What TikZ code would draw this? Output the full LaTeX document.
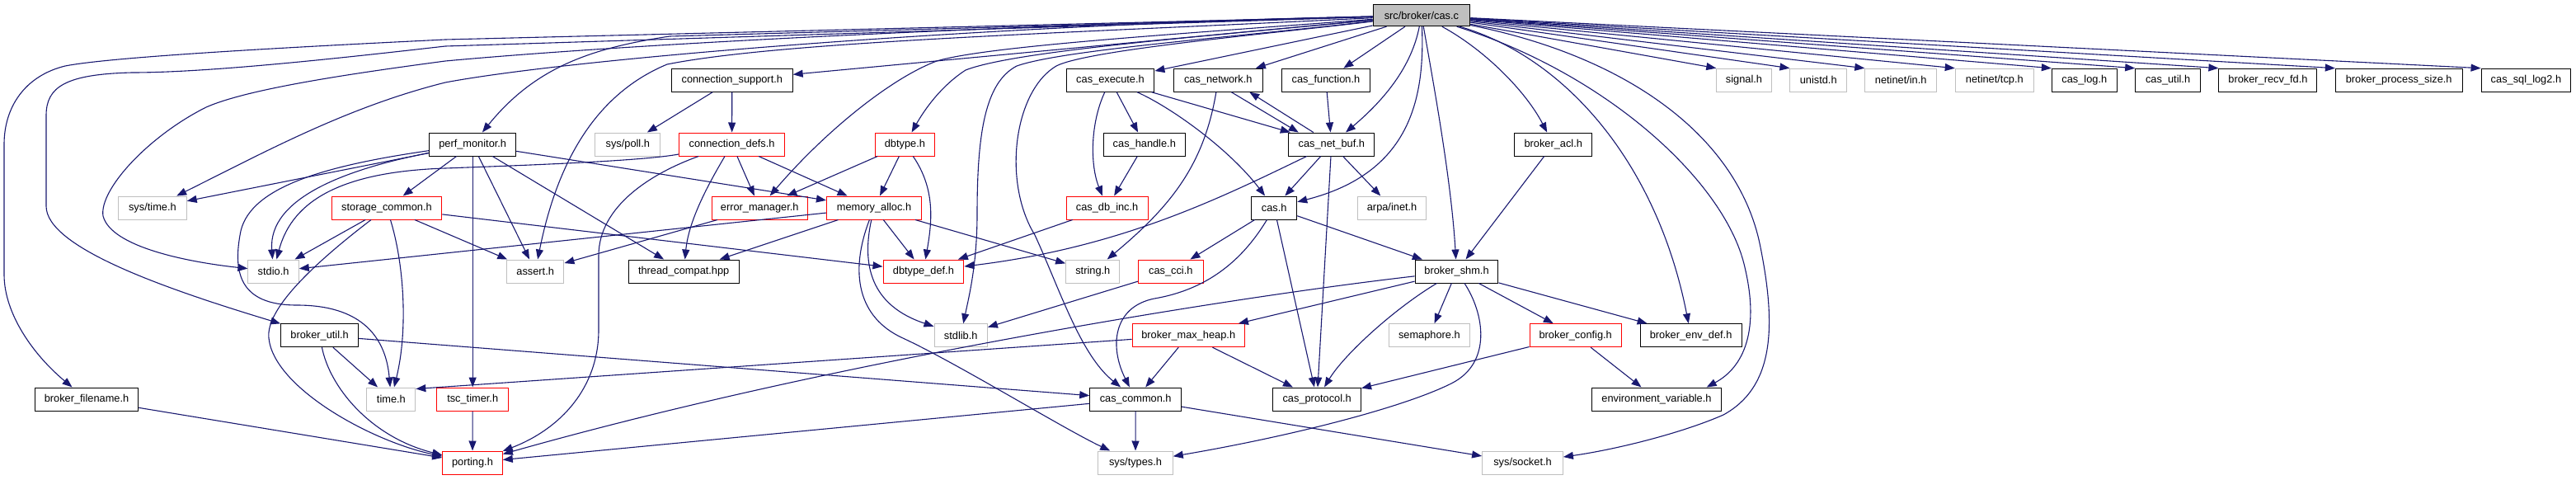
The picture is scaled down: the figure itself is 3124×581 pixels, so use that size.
\documentclass[tikz,border=0pt]{standalone}
\usepackage{fontspec}
\setmainfont{Liberation Sans}
\usetikzlibrary{arrows.meta}
\definecolor{edgec}{HTML}{191970}
\definecolor{grayb}{HTML}{BFBFBF}
\newcommand\nodefont{\fontsize{12.8}{15}\selectfont}
\tikzset{
 nd/.style={rectangle, line width=1pt, minimum height=28pt, inner sep=0pt, font=\nodefont, text=black},
 blk/.style={nd, draw=black},
 redb/.style={nd, draw=red},
 gryb/.style={nd, draw=grayb},
 rootb/.style={nd, draw=black, fill=grayb, minimum height=26pt},
 e/.style={draw=edgec, line width=1.1pt, -{Triangle[length=12pt,width=9pt]}},
}
\begin{document}
\begin{tikzpicture}[x=1pt,y=-1pt]
\useasboundingbox (0,0) rectangle (3124,581);
% row 0
\node[rootb, minimum width=117.7pt] (R) at (1723.9,18.7) {src/broker/cas.c};
% row 1
\node[blk, minimum width=146.7pt] (csup) at (887.8,97.2) {connection\_support.h};
\node[blk, minimum width=106.8pt] (cexe) at (1346.5,97.2) {cas\_execute.h};
\node[blk, minimum width=107.4pt] (cnet) at (1477.3,97.2) {cas\_network.h};
\node[blk, minimum width=106.7pt] (cfun) at (1607.9,97.2) {cas\_function.h};
\node[gryb, minimum width=66.5pt] (sig) at (2115,97.2) {signal.h};
\node[gryb, minimum width=68.5pt] (unistd) at (2205.2,97.2) {unistd.h};
\node[gryb, minimum width=86.8pt] (netin) at (2305.2,97.2) {netinet/in.h};
\node[gryb, minimum width=95.1pt] (nettcp) at (2418.8,97.2) {netinet/tcp.h};
\node[blk, minimum width=78.9pt] (clog) at (2527.8,97.2) {cas\_log.h};
\node[blk, minimum width=78.8pt] (cutil) at (2629.1,97.2) {cas\_util.h};
\node[blk, minimum width=119pt] (brecv) at (2750.4,97.2) {broker\_recv\_fd.h};
\node[blk, minimum width=153.7pt] (bproc) at (2909.2,97.2) {broker\_process\_size.h};
\node[blk, minimum width=108.7pt] (csql) at (3063.4,97.2) {cas\_sql\_log2.h};
% row 2
\node[blk, minimum width=105pt] (pm) at (573.2,175) {perf\_monitor.h};
\node[gryb, minimum width=78.9pt] (spoll) at (761.3,175) {sys/poll.h};
\node[redb, minimum width=128.4pt] (cdefs) at (887.6,175) {connection\_defs.h};
\node[redb, minimum width=71.9pt] (dbt) at (1097.4,175) {dbtype.h};
\node[blk, minimum width=99.2pt] (chandle) at (1387.8,175) {cas\_handle.h};
\node[blk, minimum width=104.1pt] (cnb) at (1614.8,175) {cas\_net\_buf.h};
\node[blk, minimum width=93.6pt] (bacl) at (1883.7,175) {broker\_acl.h};
% row 3
\node[gryb, minimum width=82.6pt] (systime) at (184.9,252) {sys/time.h};
\node[redb, minimum width=133.6pt] (stcom) at (469,252) {storage\_common.h};
\node[redb, minimum width=116.4pt] (em) at (921.2,252) {error\_manager.h};
\node[redb, minimum width=115.1pt] (malloc) at (1060,252) {memory\_alloc.h};
\node[redb, minimum width=98.9pt] (cdbinc) at (1342.6,252) {cas\_db\_inc.h};
\node[blk, minimum width=55.1pt] (cas) at (1545.2,252) {cas.h};
\node[gryb, minimum width=82.6pt] (arpa) at (1688.1,252) {arpa/inet.h};
% row 4
\node[gryb, minimum width=61.3pt] (stdio) at (331.6,329) {stdio.h};
\node[gryb, minimum width=69.5pt] (assert) at (649.2,329) {assert.h};
\node[blk, minimum width=133.6pt] (tcompat) at (829.2,329) {thread\_compat.hpp};
\node[redb, minimum width=97.8pt] (dbtdef) at (1119.9,329) {dbtype\_def.h};
\node[gryb, minimum width=65.3pt] (string) at (1325.3,329) {string.h};
\node[redb, minimum width=79pt] (ccci) at (1419.8,329) {cas\_cci.h};
\node[blk, minimum width=100.9pt] (bshm) at (1766.5,329) {broker\_shm.h};
% row 5
\node[blk, minimum width=94pt] (bu) at (387.6,406.7) {broker\_util.h};
\node[gryb, minimum width=64.4pt] (stdlib) at (1165.2,406.7) {stdlib.h};
\node[redb, minimum width=136.3pt] (bmh) at (1441.2,406.7) {broker\_max\_heap.h};
\node[gryb, minimum width=97.4pt] (sema) at (1733.4,406.7) {semaphore.h};
\node[redb, minimum width=111.2pt] (bcfg) at (1910.7,406.7) {broker\_config.h};
\node[blk, minimum width=122.9pt] (benv) at (2050.6,406.7) {broker\_env\_def.h};
% row 6
\node[blk, minimum width=125.4pt] (bfn) at (105,484) {broker\_filename.h};
\node[gryb, minimum width=58.9pt] (time) at (474.4,484) {time.h};
\node[redb, minimum width=87.2pt] (tsc) at (573.2,484) {tsc\_timer.h};
\node[blk, minimum width=110.9pt] (ccom) at (1377.2,484) {cas\_common.h};
\node[blk, minimum width=106.8pt] (cproto) at (1597.2,484) {cas\_protocol.h};
\node[blk, minimum width=156.3pt] (envv) at (2009,484) {environment\_variable.h};
% row 7
\node[redb, minimum width=72.6pt] (porting) at (573,561) {porting.h};
\node[gryb, minimum width=90.5pt] (systypes) at (1377,561) {sys/types.h};
\node[gryb, minimum width=97.8pt] (sock) at (1846.5,561) {sys/socket.h};

% ---- edges from root
\draw[e] (R) -- (540,48) .. controls (250,62) and (120,72) .. (79,80) .. controls (30,92) and (5,130) .. (5,175) -- (5,333) .. controls (5,380) and (40,430) .. (bfn);
\draw[e] (R) -- (540,56) .. controls (400,72) and (250,88) .. (160,88) .. controls (80,90) and (56,105) .. (56,140) -- (56,250) .. controls (56,300) and (200,350) .. (bu);
\draw[e] (R) .. controls (1300,28) and (800,50) .. (540,74) .. controls (420,90) and (300,108) .. (250,130) .. controls (180,165) and (120,230) .. (125,262) .. controls (135,300) and (230,318) .. (stdio);
\draw[e] (R) .. controls (1200,30) and (700,70) .. (540,100) .. controls (420,130) and (320,185) .. (systime);
\draw[e] (R) -- (812,44) .. controls (720,58) and (650,80) .. (pm);
\draw[e] (R) -- (csup);
\draw[e] (R) .. controls (1300,40) and (950,50) .. (809,78) .. controls (720,115) and (675,200) .. (assert);
\draw[e] (R) .. controls (1450,40) and (1200,55) .. (1136,74) .. controls (1080,95) and (1000,160) .. (em);
\draw[e] (R) .. controls (1450,45) and (1230,62) .. (1171,85) .. controls (1140,105) and (1120,135) .. (dbt);
\draw[e] (R) .. controls (1500,45) and (1290,60) .. (1233,80) .. controls (1195,100) and (1185,160) .. (1185,260) .. controls (1185,320) and (1175,360) .. (stdlib);
\draw[e] (R) .. controls (1550,40) and (1320,60) .. (1281,80) .. controls (1230,110) and (1215,220) .. (1255,285) .. controls (1285,350) and (1310,430) .. (ccom);
\draw[e] (R) -- (cexe);
\draw[e] (R) -- (cnet);
\draw[e] (R) -- (cfun);
\draw[e] (R) .. controls (1712,80) and (1680,120) .. (cnb);
\draw[e] (R) .. controls (1728,120) and (1710,210) .. (cas);
\draw[e] (R) .. controls (1740,110) and (1760,220) .. (bshm);
\draw[e] (R) .. controls (1800,60) and (1850,110) .. (bacl);
\draw[e] (R) .. controls (1900,70) and (2010,200) .. (benv);
\draw[e] (R) .. controls (1950,90) and (2090,220) .. (2115,320) .. controls (2135,400) and (2115,445) .. ([xshift=-18pt]envv.north east);
\draw[e] (R) .. controls (1980,70) and (2110,170) .. (2135,300) .. controls (2155,400) and (2150,470) .. (2090,503) .. controls (2040,525) and (1960,545) .. (sock);
\foreach \t in {sig,unistd,netin,nettcp,clog,cutil,brecv,bproc,csql}
  \draw[e] (R) -- (\t.north west);

% ---- perf_monitor.h
\draw[e] (pm) -- (systime);
\draw[e] (pm) .. controls (420,205) and (325,240) .. (stdio);
\draw[e] (pm) .. controls (400,200) and (305,225) .. (292,280) .. controls (282,330) and (290,370) .. (360,370) .. controls (440,370) and (468,410) .. (time);
\draw[e] (pm) -- (stcom);
\draw[e] (pm) -- (tsc);
\draw[e] (pm) -- (assert);
\draw[e] (pm) -- (tcompat);
\draw[e] (pm) -- (malloc);

% ---- connection_support.h / connection_defs.h
\draw[e] (csup) -- (spoll);
\draw[e] (csup) -- (cdefs);
\draw[e] (cdefs) .. controls (790,210) and (726,250) .. (726,310) -- (726,400) .. controls (726,470) and (680,520) .. (porting);
\draw[e] (cdefs) .. controls (780,195) and (650,200) .. (540,204) .. controls (420,208) and (355,240) .. (stdio);
\draw[e] (cdefs) -- (em);
\draw[e] (cdefs) .. controls (855,230) and (835,270) .. (tcompat);
\draw[e] (cdefs) -- (malloc);
\draw[e] (em) -- (assert);

% ---- memory_alloc.h
\draw[e] (malloc) -- (stdio);
\draw[e] (malloc) -- (tcompat);
\draw[e] (malloc) -- (dbtdef);
\draw[e] (malloc) -- (string);
\draw[e] (malloc) .. controls (1045,320) and (1055,370) .. (stdlib);
\draw[e] (malloc) .. controls (1030,330) and (1040,385) .. (1095,410) .. controls (1160,440) and (1290,520) .. (systypes);

% ---- dbtype.h
\draw[e] (dbt) -- (malloc);
\draw[e] (dbt) .. controls (1135,230) and (1130,270) .. (dbtdef);
\draw[e] (dbt) -- (em);

% ---- storage_common.h
\draw[e] (stcom) -- (stdio);
\draw[e] (stcom) .. controls (380,320) and (322,375) .. (326,410) .. controls (332,470) and (450,535) .. (porting);
\draw[e] (stcom) .. controls (490,320) and (495,400) .. (time);
\draw[e] (stcom) -- (assert);
\draw[e] (stcom) -- (dbtdef);

% ---- broker_util.h, broker_filename.h, tsc_timer.h
\draw[e] (bu) -- (time);
\draw[e] (bu) .. controls (400,470) and (450,530) .. (porting);
\draw[e] (bu) -- (ccom);
\draw[e] (bfn) -- (porting);
\draw[e] (tsc) -- (porting);

% ---- cas_execute.h, cas_handle.h, cas_db_inc.h
\draw[e] (cexe) .. controls (1322,150) and (1322,200) .. (cdbinc);
\draw[e] (cexe) -- (chandle);
\draw[e] (cexe) .. controls (1420,130) and (1490,180) .. (cas);
\draw[e] (cexe) -- (cnb);
\draw[e] (chandle) -- (cdbinc);
\draw[e] (cdbinc) -- (dbtdef);

% ---- cas_network.h, cas_function.h, cas_net_buf.h
\draw[e] (cnet) .. controls (1460,200) and (1420,250) .. (string);
\draw[e] ([xshift=16pt]cnet.south) -- ([xshift=-40pt]cnb.north);
\draw[e] ([xshift=-22pt]cnb.north) -- ([xshift=38pt]cnet.south);
\draw[e] (cfun) -- (cnb);
\draw[e] (cnb) -- (cas);
\draw[e] (cnb) -- (arpa);
\draw[e] (cnb) -- (cproto);
\draw[e] (cnb) .. controls (1480,240) and (1360,300) .. (dbtdef);

% ---- cas.h, cas_cci.h
\draw[e] (cas) -- (ccci);
\draw[e] (cas) .. controls (1510,310) and (1470,350) .. (1400,362) .. controls (1350,372) and (1345,420) .. (ccom);
\draw[e] (cas) -- (cproto);
\draw[e] (cas) -- (bshm);
\draw[e] (ccci) -- (stdlib);

% ---- broker_shm.h
\draw[e] (bshm) .. controls (1480,362) and (1000,440) .. (porting);
\draw[e] (bshm) -- (bmh);
\draw[e] (bshm) .. controls (1690,375) and (1630,430) .. (cproto);
\draw[e] (bshm) -- (sema);
\draw[e] (bshm) .. controls (1800,380) and (1810,440) .. (1760,465) .. controls (1700,495) and (1560,530) .. (systypes);
\draw[e] (bshm) -- (bcfg);
\draw[e] (bshm) -- (benv);
\draw[e] (bacl) -- (bshm);

% ---- broker_max_heap.h
\draw[e] (bmh) -- ([yshift=-2pt]time.north east);
\draw[e] (bmh) -- (ccom);
\draw[e] (bmh) -- (cproto);

% ---- cas_common.h
\draw[e] (ccom) -- (porting);
\draw[e] (ccom) -- (systypes);
\draw[e] (ccom) -- (sock);

% ---- broker_config.h
\draw[e] (bcfg) -- (cproto);
\draw[e] (bcfg) -- (envv);
\end{tikzpicture}
\end{document}
